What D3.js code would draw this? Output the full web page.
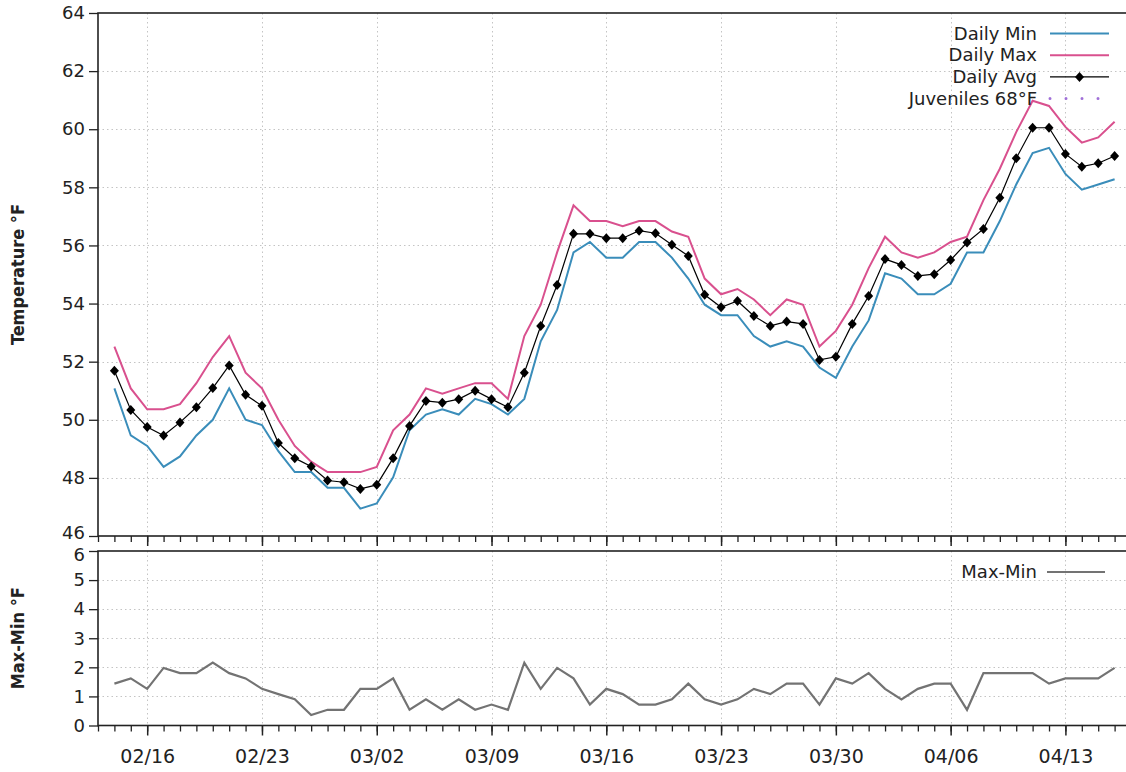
<!DOCTYPE html>
<html>
<head>
<meta charset="utf-8">
<script src="https://cdn.jsdelivr.net/npm/d3@7"></script>
<style>
  body { margin: 0; background: #fff; }
  svg { display: block; }
  .tick text { font-family: "DejaVu Sans", sans-serif; fill: #222; }
</style>
</head>
<body>
<svg id="chart" width="1126" height="772"></svg>
<script>
// ---- data (°F), one value per day starting at firstDay ----
const firstDay = "2023-02-14";
const dailyMin = [51.08, 49.46, 49.10, 48.38, 48.74, 49.46, 50.00, 51.08, 50.00, 49.82, 48.92, 48.20, 48.20, 47.66, 47.66, 46.94, 47.12,
                  48.02, 49.64, 50.18, 50.36, 50.18, 50.72, 50.54, 50.18, 50.72, 52.70, 53.78, 55.76, 56.12, 55.58, 55.58,
                  56.12, 56.12, 55.58, 54.86, 53.96, 53.60, 53.60, 52.88, 52.52, 52.70, 52.52, 51.80, 51.44, 52.52, 53.42,
                  55.04, 54.86, 54.32, 54.32, 54.68, 55.76, 55.76, 56.84, 58.10, 59.18, 59.36, 58.46, 57.92, 58.10, 58.28];
const dailyMax = [52.52, 51.08, 50.36, 50.36, 50.54, 51.26, 52.16, 52.88, 51.62, 51.08, 50.00, 49.10, 48.56, 48.20, 48.20, 48.20, 48.38,
                  49.64, 50.18, 51.08, 50.90, 51.08, 51.26, 51.26, 50.72, 52.88, 53.96, 55.76, 57.38, 56.84, 56.84, 56.66,
                  56.84, 56.84, 56.48, 56.30, 54.86, 54.32, 54.50, 54.14, 53.60, 54.14, 53.96, 52.52, 53.06, 53.96, 55.22,
                  56.30, 55.76, 55.58, 55.76, 56.12, 56.30, 57.56, 58.64, 59.90, 60.98, 60.80, 60.08, 59.54, 59.72, 60.26];
const dailyAvg = [51.69, 50.34, 49.75, 49.46, 49.91, 50.43, 51.09, 51.87, 50.86, 50.48, 49.20, 48.68, 48.39, 47.91, 47.85, 47.62, 47.76,
                  48.68, 49.79, 50.65, 50.59, 50.71, 51.00, 50.71, 50.43, 51.62, 53.23, 54.64, 56.40, 56.40, 56.25, 56.25,
                  56.51, 56.42, 56.02, 55.64, 54.30, 53.87, 54.09, 53.57, 53.23, 53.38, 53.30, 52.06, 52.17, 53.30, 54.26,
                  55.53, 55.33, 54.95, 55.01, 55.50, 56.10, 56.57, 57.64, 59.00, 60.05, 60.05, 59.15, 58.71, 58.83, 59.08];
const maxMinRange = [1.44, 1.62, 1.26, 1.98, 1.80, 1.80, 2.16, 1.80, 1.62, 1.26, 1.08, 0.90, 0.36, 0.54, 0.54, 1.26, 1.26,
                     1.62, 0.54, 0.90, 0.54, 0.90, 0.54, 0.72, 0.54, 2.16, 1.26, 1.98, 1.62, 0.72, 1.26, 1.08,
                     0.72, 0.72, 0.90, 1.44, 0.90, 0.72, 0.90, 1.26, 1.08, 1.44, 1.44, 0.72, 1.62, 1.44, 1.80,
                     1.26, 0.90, 1.26, 1.44, 1.44, 0.54, 1.80, 1.80, 1.80, 1.80, 1.44, 1.62, 1.62, 1.62, 1.98];
const juvenileLimit = 68;

const tempTicks = [46, 48, 50, 52, 54, 56, 58, 60, 62, 64];
const rangeTicks = [0, 1, 2, 3, 4, 5, 6];
const firstLabelDay = "2023-02-16";
const legendTop = ["Daily Min", "Daily Max", "Daily Avg", "Juveniles 68°F"];
const legendBottom = ["Max-Min"];
const tempTitle = "Temperature °F";
const rangeTitle = "Max-Min °F";

// ---- layout ----
const COL = { min: "#3a8dba", max: "#d9508e", avg: "#000", juv: "#a070d8", range: "#737373", grid: "#c4c4c4", frame: "#222" };
const plotLeft = 98, plotRight = 1131;
const top1 = 13, bot1 = 536;
const top2 = 551, bot2 = 725.5;

const svg = d3.select("#chart");
const parse = d3.utcParse("%Y-%m-%d");
const day0 = parse(firstDay);
const dates = dailyAvg.map((_, i) => d3.utcDay.offset(day0, i));

const x = d3.scaleUtc()
  .domain([d3.utcDay.offset(day0, -1), d3.utcDay.offset(day0, dailyAvg.length)])
  .range([plotLeft, plotRight]);
const yT = d3.scaleLinear().domain([46, 64]).range([bot1, top1]);
const yR = d3.scaleLinear().domain([0, 6]).range([bot2, top2]);

const minorDays = d3.utcDay.range(x.domain()[0], d3.utcDay.offset(x.domain()[1], 1));
const majorDays = d3.utcDay.range(parse(firstLabelDay), d3.utcDay.offset(x.domain()[1], 1), 7);

svg.append("defs").selectAll("clipPath")
  .data([["clipTop", top1, bot1], ["clipBot", top2, bot2]])
  .join("clipPath").attr("id", d => d[0])
  .append("rect").attr("x", plotLeft).attr("y", d => d[1])
  .attr("width", plotRight - plotLeft).attr("height", d => d[2] - d[1]);

function panelGrid(y, ticks, yTop, yBot) {
  const g = svg.append("g").attr("stroke", COL.grid).attr("stroke-width", 1)
    .attr("stroke-dasharray", "1.5,3");
  g.selectAll("line.h").data(ticks.slice(1, -1)).join("line")
    .attr("x1", plotLeft).attr("x2", plotRight)
    .attr("y1", d => Math.round(y(d)) + 0.5).attr("y2", d => Math.round(y(d)) + 0.5);
  g.selectAll("line.v").data(majorDays).join("line")
    .attr("x1", d => Math.round(x(d)) + 0.5).attr("x2", d => Math.round(x(d)) + 0.5)
    .attr("y1", yTop).attr("y2", yBot);
}
panelGrid(yT, tempTicks, top1, bot1);
panelGrid(yR, rangeTicks, top2, bot2);

function xAxes(yPos, withLabels) {
  svg.append("g").attr("transform", `translate(0,${yPos})`)
    .call(d3.axisBottom(x).tickValues(minorDays).tickSize(6).tickFormat(""))
    .call(g => g.select(".domain").remove())
    .call(g => g.selectAll("line").attr("stroke", COL.frame).attr("stroke-width", 1.3));
  const major = svg.append("g").attr("transform", `translate(0,${yPos})`)
    .call(d3.axisBottom(x).tickValues(majorDays).tickSize(10).tickPadding(14)
      .tickFormat(withLabels ? d3.utcFormat("%m/%d") : ""))
    .call(g => g.select(".domain").remove())
    .call(g => g.selectAll("line").attr("stroke", COL.frame).attr("stroke-width", 1.5));
  major.selectAll("text").style("font-size", "19px");
}
xAxes(bot1, false);
xAxes(bot2, true);

function yAxis(y, ticks, dy) {
  svg.append("g").attr("transform", `translate(${plotLeft},0)`)
    .call(d3.axisLeft(y).tickValues(ticks).tickSize(9).tickPadding(4).tickFormat(d3.format("d")))
    .call(g => g.select(".domain").remove())
    .call(g => g.selectAll("line").attr("stroke", COL.frame).attr("stroke-width", 1.3))
    .call(g => g.selectAll("text").style("font-size", "18px")
      .attr("dy", (d, i) => (dy && dy[d] !== undefined ? dy[d] : "0.32em")));
}
// the lowest temperature label and the top range label sit where the panels meet
yAxis(yT, tempTicks, { 46: "0.15em" });
yAxis(yR, rangeTicks, { 6: "0.5em" });

// frames
[[top1, bot1], [top2, bot2]].forEach(([a, b]) => {
  svg.append("rect").attr("x", plotLeft).attr("y", a)
    .attr("width", plotRight - plotLeft).attr("height", b - a)
    .attr("fill", "none").attr("stroke", COL.frame).attr("stroke-width", 1.6);
});

// axis titles
function yTitle(text, cy) {
  svg.append("text").attr("transform", `translate(24,${cy}) rotate(-90)`)
    .attr("text-anchor", "middle")
    .style("font-family", "'Liberation Sans Narrow', 'DejaVu Sans Condensed', sans-serif")
    .style("font-weight", "bold").style("font-size", "18px").attr("fill", "#222")
    .text(text);
}
yTitle(tempTitle, (top1 + bot1) / 2);
yTitle(rangeTitle, (top2 + bot2) / 2);

// series
const topG = svg.append("g").attr("clip-path", "url(#clipTop)");
const lineT = vals => d3.line().x((d, i) => x(dates[i])).y(d => yT(d))(vals);

topG.append("path").attr("d", lineT(dailyMin)).attr("fill", "none")
  .attr("stroke", COL.min).attr("stroke-width", 2);
topG.append("path").attr("d", lineT(dailyMax)).attr("fill", "none")
  .attr("stroke", COL.max).attr("stroke-width", 2);
topG.append("path").attr("d", lineT(dailyAvg)).attr("fill", "none")
  .attr("stroke", COL.avg).attr("stroke-width", 1.2);
topG.append("line")
  .attr("x1", plotLeft).attr("x2", plotRight)
  .attr("y1", yT(juvenileLimit)).attr("y2", yT(juvenileLimit))
  .attr("stroke", COL.juv).attr("stroke-width", 3).attr("stroke-linecap", "round")
  .attr("stroke-dasharray", "0,16");

const diamond = "M0,-5L4.5,0L0,5L-4.5,0Z";
topG.selectAll("path.mk").data(dailyAvg).join("path").attr("class", "mk")
  .attr("d", diamond)
  .attr("transform", (d, i) => `translate(${x(dates[i])},${yT(d)})`)
  .attr("fill", COL.avg);

const botG = svg.append("g").attr("clip-path", "url(#clipBot)");
botG.append("path")
  .attr("d", d3.line().x((d, i) => x(dates[i])).y(d => yR(d))(maxMinRange))
  .attr("fill", "none").attr("stroke", COL.range).attr("stroke-width", 2.2);

// legends
const legText = (g, t, yy) => g.append("text").attr("x", 1037).attr("y", yy + 6)
  .attr("text-anchor", "end")
  .style("font-family", "'DejaVu Sans', sans-serif").style("font-size", "18px")
  .attr("fill", "#222").text(t);

const lg = svg.append("g");
const rowY = i => 33.5 + i * 21.7;
const sampleX1 = 1050, sampleX2 = 1109;
legendTop.forEach((t, i) => legText(lg, t, rowY(i)));
lg.append("line").attr("x1", sampleX1).attr("x2", sampleX2).attr("y1", rowY(0)).attr("y2", rowY(0))
  .attr("stroke", COL.min).attr("stroke-width", 2);
lg.append("line").attr("x1", sampleX1).attr("x2", sampleX2).attr("y1", rowY(1)).attr("y2", rowY(1))
  .attr("stroke", COL.max).attr("stroke-width", 2);
lg.append("line").attr("x1", sampleX1).attr("x2", sampleX2).attr("y1", rowY(2)).attr("y2", rowY(2))
  .attr("stroke", COL.avg).attr("stroke-width", 1.2);
lg.append("path").attr("d", diamond)
  .attr("transform", `translate(${(sampleX1 + sampleX2) / 2},${rowY(2)})`).attr("fill", COL.avg);
lg.append("line").attr("x1", sampleX1).attr("x2", sampleX2).attr("y1", rowY(3)).attr("y2", rowY(3))
  .attr("stroke", COL.juv).attr("stroke-width", 3).attr("stroke-linecap", "round")
  .attr("stroke-dasharray", "0,16");

legText(lg, legendBottom[0], 572);
lg.append("line").attr("x1", 1047).attr("x2", 1105).attr("y1", 572).attr("y2", 572)
  .attr("stroke", COL.range).attr("stroke-width", 2.2);
</script>
</body>
</html>
